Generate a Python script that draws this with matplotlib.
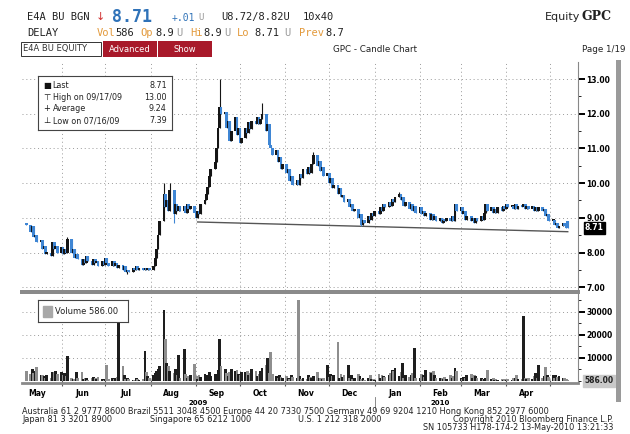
import matplotlib
matplotlib.use("Agg")
import matplotlib.pyplot as plt
import matplotlib.dates as mdates
import matplotlib.transforms as mtransforms
from matplotlib.patches import Rectangle
import numpy as np
import pandas as pd
import datetime as dt

# ---------------- data ----------------
start_date = "2009-05-08"
end_date = "2010-05-13"

# daily closes, grouped by week (Mon..Fri)
close_weeks = [
    [8.80],
    [8.60, 8.75, 8.45, 8.50, 8.30],
    [8.35, 8.10, 8.20, 7.95, 8.00],
    [7.90, 8.30, 8.10, 8.20, 8.00],
    [8.15, 7.95, 8.10, 8.00, 8.40],
    [8.00, 8.10, 7.85, 7.95, 7.80],
    [7.65, 7.80, 7.70, 7.90, 7.75],
    [7.65, 7.80, 7.70, 7.75, 7.60],
    [7.75, 7.65, 7.85, 7.70, 7.60],
    [7.75, 7.60, 7.70, 7.55, 7.65],
    [7.50, 7.60, 7.45, 7.50, 7.45],
    [7.55, 7.50, 7.60, 7.50, 7.55],
    [7.50, 7.55, 7.50, 7.55, 7.50],
    [7.60, 7.85, 8.10, 8.50, 8.90],
    [9.70, 9.30, 9.50, 9.20, 9.80],
    [9.10, 9.40, 9.20, 9.35, 9.20],
    [9.35, 9.15, 9.40, 9.25, 9.35],
    [9.15, 9.00, 9.20, 9.10, 9.40],
    [9.50, 9.70, 9.90, 10.20, 10.40],
    [10.60, 11.00, 11.60, 12.20, 12.00],
    [12.05, 11.60, 11.80, 11.20, 11.50],
    [11.90, 11.40, 11.60, 11.15, 11.30],
    [11.60, 11.45, 11.75, 11.55, 11.80],
    [11.70, 11.90, 11.70, 11.85, 12.00],
    [11.50, 11.70, 11.10, 11.00, 10.80],
    [10.95, 10.60, 10.75, 10.40, 10.55],
    [10.30, 10.40, 10.05, 10.20, 9.95],
    [10.10, 9.95, 10.25, 10.15, 10.40],
    [10.25, 10.45, 10.30, 10.55, 10.80],
    [10.50, 10.65, 10.35, 10.45, 10.20],
    [10.30, 10.00, 10.15, 9.85, 9.95],
    [9.70, 9.85, 9.60, 9.65, 9.45],
    [9.55, 9.30, 9.40, 9.20, 9.25],
    [9.00, 9.10, 8.80, 8.95, 8.85],
    [9.05, 8.95, 9.15, 9.05, 9.20],
    [9.10, 9.30, 9.20, 9.40, 9.30],
    [9.45, 9.35, 9.55, 9.45, 9.60],
    [9.70, 9.50, 9.60, 9.35, 9.45],
    [9.25, 9.40, 9.20, 9.35, 9.15],
    [9.30, 9.10, 9.20, 9.05, 9.15],
    [8.95, 9.10, 8.95, 9.05, 8.90],
    [9.00, 8.85, 8.95, 8.90, 9.00],
    [8.90, 9.05, 8.90, 9.40, 9.20],
    [9.30, 9.10, 9.20, 8.95, 9.05],
    [8.90, 9.00, 8.85, 9.00, 8.90],
    [9.05, 8.95, 9.15, 9.40, 9.20],
    [9.30, 9.15, 9.25, 9.15, 9.30],
    [9.20, 9.35, 9.25, 9.40, 9.30],
    [9.35, 9.25, 9.40, 9.25, 9.35],
    [9.30, 9.40, 9.25, 9.35, 9.25],
    [9.35, 9.20, 9.30, 9.20, 9.30],
    [9.20, 9.25, 9.05, 9.10, 8.90],
    [8.95, 8.80, 8.85, 8.70, 8.75],
    [8.85, 8.75, 8.70, 8.71],
]

volume_weeks = [
    [4500],
    [3000, 5000, 3500, 4200, 6200],
    [2500, 2800, 2000, 1500, 2500],
    [1200, 4000, 3800, 4200, 3000],
    [4000, 2500, 3600, 2000, 10700],
    [1500, 1000, 800, 4000, 1200],
    [3900, 800, 1500, 1200, 600],
    [1500, 1800, 1200, 900, 1600],
    [700, 500, 1000, 7100, 800],
    [1200, 900, 1500, 1800, 26000],
    [6600, 2500, 1000, 1500, 800],
    [600, 400, 1200, 700, 500],
    [900, 13000, 4000, 2000, 1500],
    [2800, 3500, 4500, 5000, 6500],
    [30700, 18200, 8000, 6500, 4500],
    [3500, 5000, 2500, 11500, 1500],
    [13800, 3000, 1200, 2200, 2500],
    [7500, 2000, 800, 2500, 1800],
    [3200, 2500, 1500, 4000, 2200],
    [3000, 2500, 4800, 18200, 6500],
    [5000, 3500, 2000, 4000, 5200],
    [4500, 4800, 3000, 2500, 4000],
    [3800, 4500, 2500, 3500, 5000],
    [4200, 2000, 3000, 4500, 5500],
    [7100, 10000, 3500, 12400, 3000],
    [2000, 1500, 2500, 1800, 1200],
    [2200, 1500, 1000, 2500, 1800],
    [1200, 35000, 2000, 800, 1500],
    [1000, 2500, 1800, 1200, 2000],
    [4000, 1500, 1200, 900, 1500],
    [7000, 1800, 3000, 2000, 2500],
    [17000, 1500, 3000, 1800, 2500],
    [7000, 1500, 2500, 800, 1200],
    [3000, 2000, 1000, 1500, 500],
    [1200, 2500, 800, 1000, 500],
    [3000, 1500, 2500, 2000, 1800],
    [2500, 3500, 4900, 4500, 5500],
    [2000, 4000, 8000, 1500, 2500],
    [1800, 2500, 3500, 14500, 1500],
    [1200, 3000, 2500, 1800, 4900],
    [4000, 3500, 4200, 2800, 1500],
    [1200, 1500, 800, 1800, 1000],
    [2500, 1500, 2000, 5500, 4500],
    [1500, 1000, 1800, 1200, 2500],
    [3000, 1200, 2500, 2000, 1500],
    [1200, 800, 1000, 1500, 4900],
    [700, 1200, 500, 900, 600],
    [800, 400, 1000, 600, 900],
    [500, 1200, 1500, 2500, 800],
    [1000, 28400, 1200, 800, 1500],
    [1000, 2000, 3500, 1200, 7100],
    [1500, 2000, 6200, 2500, 1800],
    [2500, 1200, 2500, 1800, 2000],
    [1500, 1200, 800, 586],
]

first_open = 8.85
open_overrides = {"2010-05-13": 8.90}
high_marks = {"2009-09-17": 13.00, "2009-08-10": 10.00, "2009-08-14": 10.00,
              "2009-10-16": 12.30, "2009-11-20": 10.90, "2010-01-18": 9.75,
              "2009-06-05": 8.45, "2010-05-13": 8.90}
low_marks = {"2009-07-16": 7.39, "2009-08-17": 8.85, "2009-12-23": 8.75}

trend_dates = ["2009-09-02", "2010-05-13"]
trend_values = [8.88, 8.60]

last_price = 8.71
high_price = 13.00
avg_price = 9.24
low_price = 7.39
last_volume = 586.00

price_ticks = [7, 8, 9, 10, 11, 12, 13]
volume_ticks = [10000, 20000, 30000]
month_label_dates = pd.date_range("2009-05-01", "2010-04-01", freq="MS") + pd.Timedelta(days=14)

# ---------------- build series ----------------
close = np.array([v for w in close_weeks for v in w])
volume = np.array([v for w in volume_weeks for v in w], dtype=float)
dates = pd.bdate_range(start_date, end_date)
assert len(dates) == len(close) == len(volume), (len(dates), len(close), len(volume))

opens = np.concatenate([[first_open], close[:-1]])
for k, v in open_overrides.items():
    opens[dates.get_loc(pd.Timestamp(k))] = v
highs = np.maximum(opens, close)
lows = np.minimum(opens, close)
for k, v in high_marks.items():
    i = dates.get_loc(pd.Timestamp(k)); highs[i] = max(highs[i], v)
for k, v in low_marks.items():
    i = dates.get_loc(pd.Timestamp(k)); lows[i] = min(lows[i], v)

up = close >= opens
BLUE = "#3f86d4"
candle_col = np.where(up, "#151515", BLUE)
vol_col = np.where(up, "#1e1e1e", "#8e8e8e")

x = mdates.date2num(dates.to_pydatetime())

# ---------------- figure ----------------
W, H = 630, 434
fig = plt.figure(figsize=(W / 100, H / 100), dpi=100)
fig.patch.set_facecolor("white")

def fx(px):
    return px / W

def fy(py):
    return 1 - py / H

L, R = 22, 578
ax = fig.add_axes([fx(L), fy(290), (R - L) / W, (290 - 62) / H])
axv = fig.add_axes([fx(L), fy(383), (R - L) / W, (383 - 293) / H], sharex=ax)

xmin = mdates.date2num(dt.datetime(2009, 5, 5))
xmax = mdates.date2num(dt.datetime(2010, 5, 20))

grid_kw = dict(color="#9a9a9a", lw=0.7, ls=(0, (1, 3)))

# price candles
body_bot = np.minimum(opens, close)
body_h = np.maximum(np.abs(close - opens), 0.06)
ax.vlines(x, lows, highs, colors=candle_col, lw=0.8, zorder=3)
ax.bar(x, body_h, bottom=body_bot, width=1.9, color=candle_col, lw=0, zorder=3)
ax.plot(mdates.date2num(pd.to_datetime(trend_dates).to_pydatetime()), trend_values,
        color="#555555", lw=1.0, zorder=2)

ax.set_xlim(xmin, xmax)
ax.set_ylim(6.92, 13.49)
ax.set_yticks(price_ticks)
ax.yaxis.set_minor_locator(matplotlib.ticker.MultipleLocator(0.5))
ax.yaxis.tick_right()
ax.yaxis.set_major_formatter(matplotlib.ticker.FormatStrFormatter("%.2f"))
ax.tick_params(axis="y", which="major", direction="out", length=5, width=1.4,
               labelsize=5.5, pad=1, colors="black")
ax.tick_params(axis="y", which="minor", direction="out", length=2, width=0.6)
for lab in ax.get_yticklabels():
    lab.set_fontweight("bold")
ax.xaxis.set_major_locator(mdates.MonthLocator())
ax.tick_params(axis="x", which="both", length=0, labelbottom=False)
ax.grid(True, axis="both", which="major", **grid_kw)
for s in ["left", "top", "bottom"]:
    ax.spines[s].set_visible(False)
ax.spines["right"].set_color("#888888")
ax.spines["right"].set_linewidth(0.8)

# last price flag
trans = mtransforms.blended_transform_factory(ax.transAxes, ax.transData)
ax.text(1.012, last_price, "%.2f" % last_price, transform=trans, ha="left", va="center",
        fontsize=5.5, fontweight="bold", color="white",
        bbox=dict(boxstyle="square,pad=0.15", fc="black", ec="black"), zorder=6, clip_on=False)

# price legend
leg = ax.inset_axes([(38 - L) / (R - L), 1 - (130 - 62) / 228, (172 - 38) / (R - L), (130 - 76) / 228])
leg.set_xticks([]); leg.set_yticks([])
leg.set_facecolor("white")
for s in leg.spines.values():
    s.set_color("#444444"); s.set_linewidth(0.8)
rows = [("\u25A0", "Last", "%.2f" % last_price),
        ("\u22A4", "High on 09/17/09", "%.2f" % high_price),
        ("+", "Average", "%.2f" % avg_price),
        ("\u22A5", "Low on 07/16/09", "%.2f" % low_price)]
for k, (sym, lab, val) in enumerate(rows):
    yy = 0.83 - k * 0.22
    leg.text(0.04, yy, sym, fontsize=6, va="center", ha="left", color="#111")
    leg.text(0.11, yy, lab, fontsize=5.8, va="center", ha="left", color="#222")
    leg.text(0.96, yy, val, fontsize=5.8, va="center", ha="right", color="#222")

# volume bars
axv.bar(x, volume, width=1.9, color=vol_col, lw=0, zorder=3)
axv.set_ylim(-870, 38260)
axv.set_yticks(volume_ticks)
axv.yaxis.tick_right()
axv.yaxis.set_major_formatter(matplotlib.ticker.FormatStrFormatter("%d"))
axv.yaxis.set_minor_locator(matplotlib.ticker.MultipleLocator(5000))
axv.tick_params(axis="y", which="major", direction="out", length=5, width=1.4,
                labelsize=5.5, pad=1)
axv.tick_params(axis="y", which="minor", direction="out", length=2, width=0.6)
for lab in axv.get_yticklabels():
    lab.set_fontweight("bold")
axv.grid(True, axis="both", which="major", **grid_kw)
axv.xaxis.set_major_locator(mdates.MonthLocator())
axv.xaxis.set_minor_locator(matplotlib.ticker.FixedLocator(
    mdates.date2num(month_label_dates.to_pydatetime())))
axv.xaxis.set_major_formatter(matplotlib.ticker.NullFormatter())
axv.xaxis.set_minor_formatter(mdates.DateFormatter("%b"))
axv.tick_params(axis="x", which="major", direction="inout", length=4, width=0.8, color="#555")
axv.tick_params(axis="x", which="minor", length=0, labelsize=5.5, pad=4)
for lab in axv.get_xticklabels(minor=True):
    lab.set_fontweight("bold")
axv.spines["left"].set_visible(False)
axv.spines["top"].set_visible(False)
axv.spines["right"].set_color("#888888")
axv.spines["right"].set_linewidth(0.8)
axv.spines["bottom"].set_color("#8a8a8a")
axv.spines["bottom"].set_linewidth(2.0)

transv = mtransforms.blended_transform_factory(axv.transAxes, axv.transData)
axv.text(1.012, 0, "%.2f" % last_volume, transform=transv, ha="left", va="center",
         fontsize=5.5, fontweight="bold", color="#222",
         bbox=dict(boxstyle="square,pad=0.2", fc="#c9c9c9", ec="#c9c9c9"), zorder=6, clip_on=False)

vleg = axv.inset_axes([(38 - L) / (R - L), 1 - (322 - 293) / 90, (128 - 38) / (R - L), (322 - 300) / 90])
vleg.set_xticks([]); vleg.set_yticks([])
for s in vleg.spines.values():
    s.set_color("#444444"); s.set_linewidth(0.8)
vleg.add_patch(Rectangle((0.06, 0.25), 0.09, 0.5, transform=vleg.transAxes, color="#a8a8a8"))
vleg.text(0.19, 0.5, "Volume %.2f" % last_volume, fontsize=6, va="center", ha="left", color="#222")

# separator between panels
fig.add_artist(Rectangle((fx(20), fy(294)), (580 - 20) / W, 4 / H, color="#8a8a8a", lw=0))
# right scroll bar
fig.add_artist(Rectangle((fx(616), fy(402)), 5 / W, (402 - 60) / H, color="#9a9a9a", lw=0))

def T(px, py, s, **kw):
    kw.setdefault("va", "center")
    kw.setdefault("ha", "left")
    fig.text(fx(px), fy(py), s, **kw)

# year labels
T(198, 403, "2009", fontsize=5, fontweight="bold", ha="center")
T(440, 403, "2010", fontsize=5, fontweight="bold", ha="center")
jan1 = mdates.date2num(dt.datetime(2010, 1, 1))
xj = L + (jan1 - xmin) / (xmax - xmin) * (R - L)
fig.add_artist(plt.Line2D([fx(xj), fx(xj)], [fy(397), fy(409)], color="#777", lw=0.6))

# header
mono = "DejaVu Sans Mono"
ORANGE = "#e39a3c"
HBLUE = "#2f72b8"
T(27, 17, "E4A BU BGN", fontsize=7.5, family=mono, color="#222")
T(96, 17, "\u2193", fontsize=8, color="#d03030")
T(112, 17, "8.71", fontsize=12, family=mono, fontweight="bold", color=HBLUE)
T(172, 18, "+.01", fontsize=7, family=mono, color=HBLUE)
T(198, 18, "U", fontsize=6.5, family=mono, color="#999")
T(221, 17, "U8.72/8.82U", fontsize=7.5, family=mono, color="#222")
T(303, 17, "10x40", fontsize=7.5, family=mono, color="#222")
T(545, 17, "Equity", fontsize=8, color="#222")
T(582, 17, "GPC", fontsize=9, family="DejaVu Serif", fontweight="bold", color="#222")

T(27, 33, "DELAY", fontsize=7.5, family=mono, color="#222")
hdr2 = [(97, "Vol", ORANGE), (115, "586", "#222"), (140, "Op", ORANGE), (155, "8.9", "#222"),
        (176, "U", "#999"), (190, "Hi", ORANGE), (203, "8.9", "#222"), (224, "U", "#999"),
        (237, "Lo", ORANGE), (254, "8.71", "#222"), (284, "U", "#999"), (299, "Prev", ORANGE),
        (325, "8.7", "#222")]
for px, s, c in hdr2:
    T(px, 33, s, fontsize=7.5, family=mono, color=c)

fig.add_artist(Rectangle((fx(21), fy(56)), 80 / W, 14 / H, fc="white", ec="#333", lw=0.7))
T(23, 49, "E4A BU EQUITY", fontsize=6, color="#333")
fig.add_artist(Rectangle((fx(103), fy(57)), 54 / W, 16 / H, fc="#a8192a", ec="none"))
fig.add_artist(Rectangle((fx(158), fy(57)), 54 / W, 16 / H, fc="#a8192a", ec="none"))
T(130, 49, "Advanced", fontsize=6, color="white", ha="center")
T(185, 49, "Show", fontsize=6, color="white", ha="center")
T(375, 49, "GPC - Candle Chart", fontsize=6.3, color="#222", ha="center")
T(626, 49, "Page 1/19", fontsize=6.3, color="#222", ha="right")

# footer
fs = 5.9
T(22, 411.5, "Australia 61 2 9777 8600 Brazil 5511 3048 4500 Europe 44 20 7330 7500 "
             "Germany 49 69 9204 1210 Hong Kong 852 2977 6000", fontsize=fs, color="#222")
T(22, 419.5, "Japan 81 3 3201 8900", fontsize=fs, color="#222")
T(150, 419.5, "Singapore 65 6212 1000", fontsize=fs, color="#222")
T(298, 419.5, "U.S. 1 212 318 2000", fontsize=fs, color="#222")
T(613, 419.5, "Copyright 2010 Bloomberg Finance L.P.", fontsize=fs, color="#222", ha="right")
T(613, 427.5, "SN 105733 H178-174-2 13-May-2010 13:21:33", fontsize=fs, color="#222", ha="right")

fig.savefig("out.png", dpi=100, facecolor="white")
